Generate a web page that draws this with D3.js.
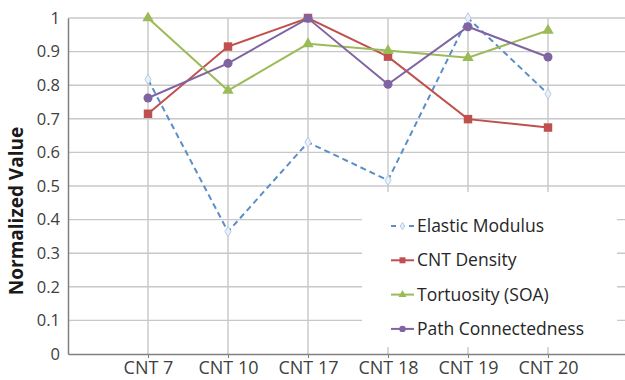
<!DOCTYPE html>
<html>
<head>
<meta charset="utf-8">
<script src="https://cdn.jsdelivr.net/npm/d3@7"></script>
<style>
  body { margin: 0; background: #fff; }
  svg { display: block; font-family: "Open Sans", sans-serif; }
</style>
</head>
<body>
<div id="chart"></div>
<script>
// categories along the x axis
var categories = ["CNT 7", "CNT 10", "CNT 17", "CNT 18", "CNT 19", "CNT 20"];
var yTicks = [0, 0.1, 0.2, 0.3, 0.4, 0.5, 0.6, 0.7, 0.8, 0.9, 1];

// values
var elasticModulus = [0.817, 0.364, 0.630, 0.517, 1.0, 0.774];
var cntDensity = [0.715, 0.915, 1.0, 0.885, 0.699, 0.674];
var tortuosity = [1.0, 0.784, 0.923, 0.903, 0.882, 0.963];
var pathConnectedness = [0.762, 0.865, 0.999, 0.803, 0.974, 0.884];

var seriesNames = ["Elastic Modulus", "CNT Density", "Tortuosity (SOA)", "Path Connectedness"];

var series = [
    { name: seriesNames[0], values: elasticModulus, color: "#5b8ec8", dash: "6,4", marker: "diamond" },
    { name: seriesNames[1], values: cntDensity, color: "#c0504d", dash: null, marker: "square" },
    { name: seriesNames[2], values: tortuosity, color: "#9bbb59", dash: null, marker: "triangle" },
    { name: seriesNames[3], values: pathConnectedness, color: "#8064a2", dash: null, marker: "circle" }
];

var totalWidth = 625, totalHeight = 380;
var margin = { top: 18, right: 0, bottom: 26, left: 68 };
var height = totalHeight - margin.top - margin.bottom;

var svg = d3.select('#chart').append('svg')
    .attr('width', totalWidth)
    .attr('height', totalHeight);

var g = svg.append('g')
    .attr('transform', 'translate(' + margin.left + ',' + margin.top + ')');

var xScale = d3.scalePoint()
    .domain(categories)
    .range([0, 560])
    .padding(1);

var yScale = d3.scaleLinear()
    .domain([0, 1])
    .range([height, 0]);

// horizontal gridlines
g.selectAll('.hgrid')
    .data(yTicks.filter(d => d > 0))
    .enter().append('line')
    .attr('x1', 0).attr('x2', 560)
    .attr('y1', d => yScale(d)).attr('y2', d => yScale(d))
    .attr('stroke', '#c8c8c8').attr('stroke-width', 1.4);

// vertical gridlines at categories
g.selectAll('.vgrid')
    .data(categories)
    .enter().append('line')
    .attr('x1', d => xScale(d)).attr('x2', d => xScale(d))
    .attr('y1', 0).attr('y2', height)
    .attr('stroke', '#c8c8c8').attr('stroke-width', 1.4);

// y axis
var yAxis = d3.axisLeft(yScale).tickValues(yTicks).tickSize(0).tickPadding(8)
    .tickFormat(d => d3.format('~g')(d));
var yAxisGroup = g.append('g').call(yAxis);
yAxisGroup.select('.domain').attr('stroke', '#7f7f7f').attr('stroke-width', 1.5);
yAxisGroup.selectAll('text').attr('fill', '#404040').attr('font-size', 16.5).attr('font-family', '"Open Sans", sans-serif');

// x axis
var xAxis = d3.axisBottom(xScale).tickSizeInner(4).tickSizeOuter(0).tickPadding(3);
var xAxisGroup = g.append('g').attr('transform', 'translate(0,' + height + ')').call(xAxis);
xAxisGroup.select('.domain').attr('stroke', '#7f7f7f').attr('stroke-width', 1.5);
xAxisGroup.selectAll('line').attr('stroke', '#7f7f7f');
xAxisGroup.selectAll('text').attr('fill', '#404040').attr('font-size', 18).attr('font-family', '"Open Sans", sans-serif');

// axis title
svg.append('text')
    .attr('transform', 'translate(23,211) rotate(-90)')
    .attr('text-anchor', 'middle')
    .attr('font-size', 19)
    .attr('font-weight', 'bold')
    .attr('fill', '#1a1a1a')
    .text('Normalized Value');

var line = d3.line()
    .x((d, i) => xScale(categories[i]))
    .y(d => yScale(d));

function drawMarker(sel, type, color, size) {
    if (type === 'diamond') {
        sel.append('path').attr('d', d3.symbol(d3.symbolDiamond, size * 4)())
            .attr('fill', '#e8f0f8').attr('stroke', '#b5cde6').attr('stroke-width', 1);
    } else if (type === 'square') {
        sel.append('path').attr('d', d3.symbol(d3.symbolSquare, size * 9)()).attr('fill', color);
    } else if (type === 'triangle') {
        sel.append('path').attr('d', d3.symbol(d3.symbolTriangle, size * 7)()).attr('fill', color);
    } else {
        sel.append('path').attr('d', d3.symbol(d3.symbolCircle, size * 8)()).attr('fill', color);
    }
}

series.forEach(function(s) {
    g.append('path')
        .datum(s.values)
        .attr('d', line)
        .attr('fill', 'none')
        .attr('stroke', s.color)
        .attr('stroke-width', 2)
        .attr('stroke-dasharray', s.dash);

    g.selectAll(null)
        .data(s.values)
        .enter().append('g')
        .attr('transform', (d, i) => 'translate(' + xScale(categories[i]) + ',' + yScale(d) + ')')
        .each(function() { drawMarker(d3.select(this), s.marker, s.color, 8); });
});

// legend
var legend = svg.append('g').attr('transform', 'translate(362,192)');
legend.append('rect').attr('width', 255).attr('height', 155).attr('fill', '#fff');
var rows = legend.selectAll('.row')
    .data(series)
    .enter().append('g')
    .attr('transform', (d, i) => 'translate(0,' + (34 + i * 34.3) + ')');
rows.append('line')
    .attr('x1', 29).attr('x2', 52)
    .attr('stroke', d => d.color)
    .attr('stroke-width', 2)
    .attr('stroke-dasharray', d => d.dash ? '5,4' : null);
rows.append('g').attr('transform', 'translate(40.5,0)')
    .each(function(d) { drawMarker(d3.select(this), d.marker, d.color, 4); });
rows.append('text')
    .attr('x', 55)
    .attr('dy', '0.35em')
    .attr('font-size', 17.5)
    .attr('fill', '#262626')
    .text(d => d.name);
</script>
</body>
</html>
